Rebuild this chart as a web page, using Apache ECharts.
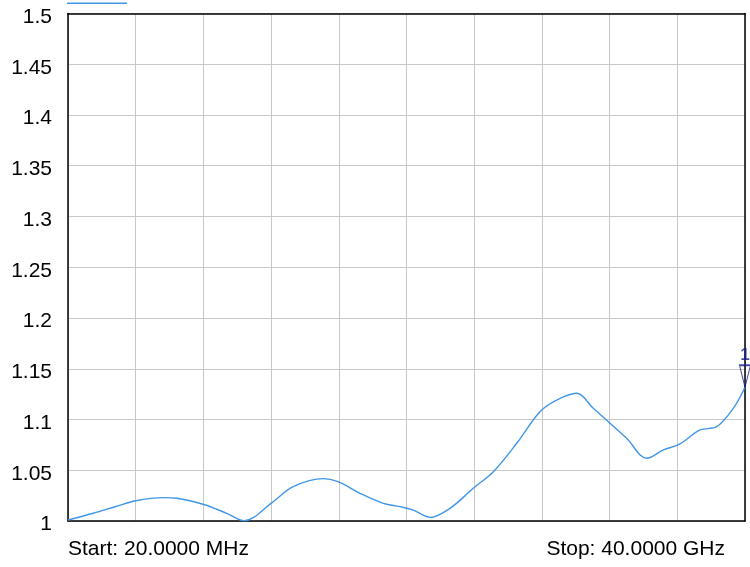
<!DOCTYPE html>
<html>
<head>
<meta charset="utf-8">
<script src="https://cdn.jsdelivr.net/npm/echarts@6/dist/echarts.min.js"></script>
<style>html,body{margin:0;padding:0;background:#fff;}#c{width:750px;height:567px;}</style>
</head>
<body>
<div id="c"></div>
<script>
// Frequency (GHz) and VSWR values
var freqGHz = [0.02, 1.51, 2.80, 4.02, 5.65, 6.44, 7.99, 9.39, 10.43, 12.01, 13.32, 15.10, 15.96, 17.26, 18.64, 19.63, 20.41, 21.40, 22.58, 23.95, 25.14, 26.52, 27.89, 28.88, 30.06, 31.04, 32.03, 33.01, 34.20, 35.18, 36.16, 37.34, 38.33, 39.31, 40.00];
var vswr = [1.001, 1.0076, 1.014, 1.020, 1.023, 1.0224, 1.0165, 1.0076, 1.0003, 1.0174, 1.0338, 1.0417, 1.0387, 1.0273, 1.0174, 1.0141, 1.0108, 1.0036, 1.0125, 1.0322, 1.0486, 1.0766, 1.1077, 1.1192, 1.1258, 1.111, 1.0963, 1.0815, 1.0618, 1.070, 1.0759, 1.0897, 1.0929, 1.111, 1.1318];
var yTicks = [1, 1.05, 1.1, 1.15, 1.2, 1.25, 1.3, 1.35, 1.4, 1.45, 1.5];
var markerFreq = 40.00;
var markerValue = 1.1318;
var markerLabel = '1';
var startText = 'Start: 20.0000 MHz';
var stopText = 'Stop: 40.0000 GHz';

var FONT = 'Liberation Sans, Arial, sans-serif';
var trace = freqGHz.map(function (f, i) { return [f, vswr[i]]; });
var chart = echarts.init(document.getElementById('c'));
var borderAxis = {
  axisLine: { show: true, lineStyle: { color: '#000', width: 1.5 } },
  axisTick: { show: false }, axisLabel: { show: false }, splitLine: { show: false }
};
chart.setOption({
  animation: false,
  backgroundColor: '#fff',
  grid: { left: 68, right: 5, top: 13.5, bottom: 46 },
  legend: {
    data: ['S11'], left: 67, top: 2.5, itemWidth: 60, itemHeight: 1.5, icon: 'rect',
    formatter: function () { return ''; }, itemGap: 0, padding: 0
  },
  xAxis: [{
    type: 'value', min: 0.02, max: 40, interval: 3.998,
    axisLine: { show: true, lineStyle: { color: '#000', width: 1.5 } },
    axisTick: { show: false }, axisLabel: { show: false },
    splitLine: { show: true, lineStyle: { color: '#c8c8c8', width: 1 } }
  }, Object.assign({ type: 'value', position: 'top', min: 0.02, max: 40 }, borderAxis)],
  yAxis: [{
    type: 'value', min: yTicks[0], max: yTicks[yTicks.length - 1], interval: 0.05,
    axisLine: { show: true, lineStyle: { color: '#000', width: 1.5 } },
    axisTick: { show: false },
    axisLabel: {
      margin: 16, color: '#000', fontSize: 21, fontFamily: FONT,
      formatter: function (v) { return '{a|' + String(parseFloat(v.toFixed(2))) + '}'; },
      rich: { a: { fontSize: 21, fontFamily: FONT, color: '#000', padding: [7, 0, 0, 0] } }
    },
    splitLine: { show: true, lineStyle: { color: '#c8c8c8', width: 1 } }
  }, Object.assign({ type: 'value', position: 'right', min: 1, max: 1.5 }, borderAxis)],
  series: [
    {
      name: 'S11', type: 'line', data: trace, showSymbol: false, smooth: 0.35,
      lineStyle: { color: '#4096e8', width: 1.4 }, itemStyle: { color: '#4096e8' }
    },
    {
      name: 'marker', type: 'scatter', data: [[markerFreq, markerValue]], clip: false,
      symbol: 'path://M0,0 L10,0 L5,20 Z', symbolSize: [11, 22], symbolOffset: [0, -11],
      symbolKeepAspect: false,
      itemStyle: { color: 'rgba(255,255,255,0)', borderColor: '#1c1c8c', borderWidth: 1.3 },
      label: { show: true, formatter: markerLabel, position: 'top', distance: 0, color: '#1c1c8c', fontSize: 17, fontWeight: 'bold', fontFamily: FONT },
      z: 5
    }
  ],
  graphic: [
    { type: 'text', left: 68, top: 539, style: { text: startText, fontSize: 21, fill: '#000', fontFamily: FONT } },
    { type: 'text', right: 25, top: 539, style: { text: stopText, fontSize: 21, fill: '#000', fontFamily: FONT } }
  ]
});
</script>
</body>
</html>
